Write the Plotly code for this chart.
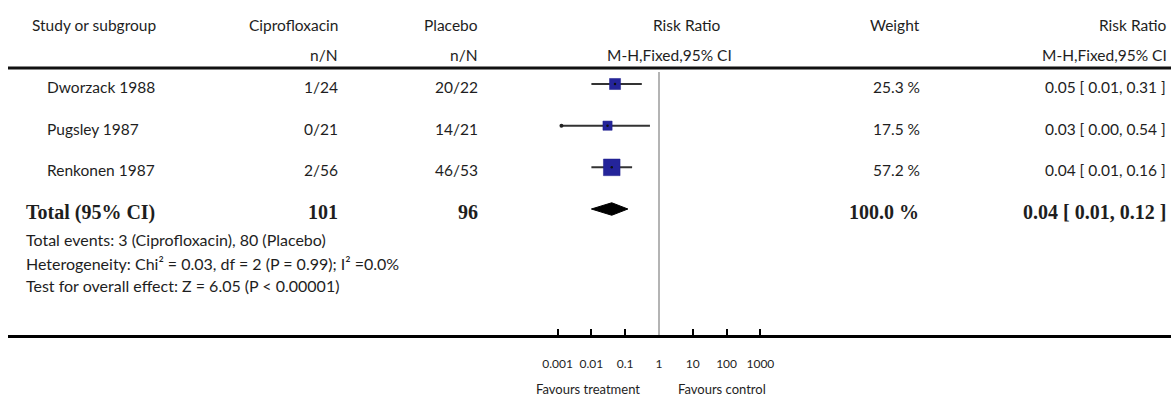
import math
import plotly.graph_objects as go

# ---------------- data ----------------
studies = ["Dworzack 1988", "Pugsley 1987", "Renkonen 1987"]
cipro_nN = ["1/24", "0/21", "2/56"]
placebo_nN = ["20/22", "14/21", "46/53"]
rr = [0.05, 0.03, 0.04]
rr_lo = [0.01, 0.0013, 0.01]
rr_hi = [0.31, 0.54, 0.16]
weights = [25.3, 17.5, 57.2]

total_label = "Total (95% CI)"
total_cipro = 101
total_placebo = 96
total_weight = 100.0
total_rr, total_lo, total_hi = 0.04, 0.01, 0.12

footnotes = [
    "Total events: 3 (Ciprofloxacin), 80 (Placebo)",
    "Heterogeneity: Chi² = 0.03, df = 2 (P = 0.99); I² =0.0%",
    "Test for overall effect: Z = 6.05 (P &lt; 0.00001)",
]
tick_vals = [0.001, 0.01, 0.1, 1, 10, 100, 1000]
tick_text = ["0.001", "0.01", "0.1", "1", "10", "100", "1000"]
fav_left, fav_right = "Favours treatment", "Favours control"

# ---------------- geometry ----------------
W, H = 1171, 398
AX_Y = 335            # pixel y of the x axis line
ROW0, ROWSTEP = 84, 41.67
X_ONE, DEC = 659, 33.8  # pixel of RR=1, pixels per decade
X_LEFT = 8

def px(x):
    return x / W

def py(y):
    return 1 - y / H

TXT = "#1e1e1e"
SANS = "Lato"
SERIF = "Liberation Serif"
FS = 15.5

fig = go.Figure()

rows = list(range(len(studies)))
# CI lines
for i in rows:
    fig.add_trace(go.Scatter(x=[rr_lo[i], rr_hi[i]], y=[i, i], mode="lines",
                             line=dict(color="#333333", width=2), hoverinfo="skip", showlegend=False))
# left-end dot for Pugsley (very wide CI)
fig.add_trace(go.Scatter(x=[rr_lo[1]], y=[1], mode="markers",
                         marker=dict(color="#222222", size=4, opacity=1), hoverinfo="skip", showlegend=False))
# weight squares
fig.add_trace(go.Scatter(x=rr, y=rows, mode="markers",
                         marker=dict(symbol="square", color="#24249a", opacity=1,
                                     size=[2.2 * math.sqrt(w) for w in weights],
                                     line=dict(width=0.5, color="#1c1c8a")),
                         hoverinfo="skip", showlegend=False))
fig.add_trace(go.Scatter(x=rr, y=rows, mode="markers",
                         marker=dict(color="#111111", size=2.5, opacity=1), hoverinfo="skip", showlegend=False))
# diamond
ti = len(studies)
dh = 0.15
fig.add_trace(go.Scatter(x=[total_lo, total_rr, total_hi, total_rr, total_lo],
                         y=[ti, ti - dh, ti, ti + dh, ti], mode="lines", fill="toself",
                         fillcolor="#000000", line=dict(color="#000000", width=1),
                         hoverinfo="skip", showlegend=False))

# axes
xl = (X_LEFT - X_ONE) / DEC
xr = (W - X_ONE) / DEC
ytop = (0 - ROW0) / ROWSTEP
ybot = (AX_Y - ROW0) / ROWSTEP
fig.update_xaxes(type="log", range=[xl, xr], domain=[px(X_LEFT), 1],
                 showline=True, linecolor="#000000", linewidth=3,
                 ticks="inside", ticklen=6, tickwidth=1.5, tickcolor="#000000",
                 tickvals=tick_vals, ticktext=tick_text, ticklabelstandoff=16,
                 tickfont=dict(family=SANS, size=12, color=TXT),
                 showgrid=False, zeroline=False, fixedrange=True)
fig.update_yaxes(range=[ybot, ytop], domain=[1 - AX_Y / H, 1], visible=False,
                 showgrid=False, zeroline=False, fixedrange=True)

# reference line at RR = 1 and header rule
fig.add_shape(type="line", xref="x", yref="paper", x0=1, x1=1, y0=py(AX_Y), y1=py(72),
              line=dict(color="#b4b4b4", width=2))
fig.add_shape(type="line", xref="paper", yref="paper", x0=px(X_LEFT), x1=1, y0=py(68), y1=py(68),
              line=dict(color="#111111", width=3))

ann = []

def text(x, y, s, anchor="left", size=FS, family=SANS, bold=False):
    if bold:
        s = "<b>" + s + "</b>"
    ann.append(dict(x=px(x), y=py(y), xref="paper", yref="paper", text=s, showarrow=False,
                    xanchor=anchor, yanchor="middle",
                    font=dict(family=family, size=size, color=TXT)))

# headers
text(30, 25, "Study or subgroup")
text(340, 25, "Ciprofloxacin", "right")
text(340, 55, "n/N", "right")
text(480, 25, "Placebo", "right")
text(480, 55, "n/N", "right")
text(687, 25, "Risk Ratio", "center")
text(669, 55, "M-H,Fixed,95% CI", "center")
text(922, 25, "Weight", "right")
text(1169, 25, "Risk Ratio", "right")
text(1169, 55, "M-H,Fixed,95% CI", "right")

# study rows
for i in rows:
    yy = ROW0 + ROWSTEP * i + 3
    text(45, yy, studies[i])
    text(340, yy, cipro_nN[i], "right")
    text(480, yy, placebo_nN[i], "right")
    text(922, yy, f"{weights[i]:.1f} %", "right")
    text(1168, yy, f"{rr[i]:.2f} [ {rr_lo[i]:.2f}, {rr_hi[i]:.2f} ]", "right")

# total row
yy = ROW0 + ROWSTEP * ti + 3
text(24, yy, total_label, family=SERIF, size=20, bold=True)
text(340, yy, str(total_cipro), "right", family=SERIF, size=20, bold=True)
text(480, yy, str(total_placebo), "right", family=SERIF, size=20, bold=True)
text(921, yy, f"{total_weight:.1f} %", "right", family=SERIF, size=20, bold=True)
text(1168, yy, f"{total_rr:.2f} [ {total_lo:.2f}, {total_hi:.2f} ]", "right", family=SERIF, size=20, bold=True)

# footnotes
for k, s in enumerate(footnotes):
    text(24, [240, 263, 285][k], s, size=16)

# favours labels
text(588, 389, fav_left, "center", size=13)
text(722, 389, fav_right, "center", size=13)

fig.update_layout(width=W, height=H, margin=dict(l=0, r=0, t=0, b=0),
                  paper_bgcolor="white", plot_bgcolor="white", annotations=ann,
                  showlegend=False)

fig.write_html("out.html")
